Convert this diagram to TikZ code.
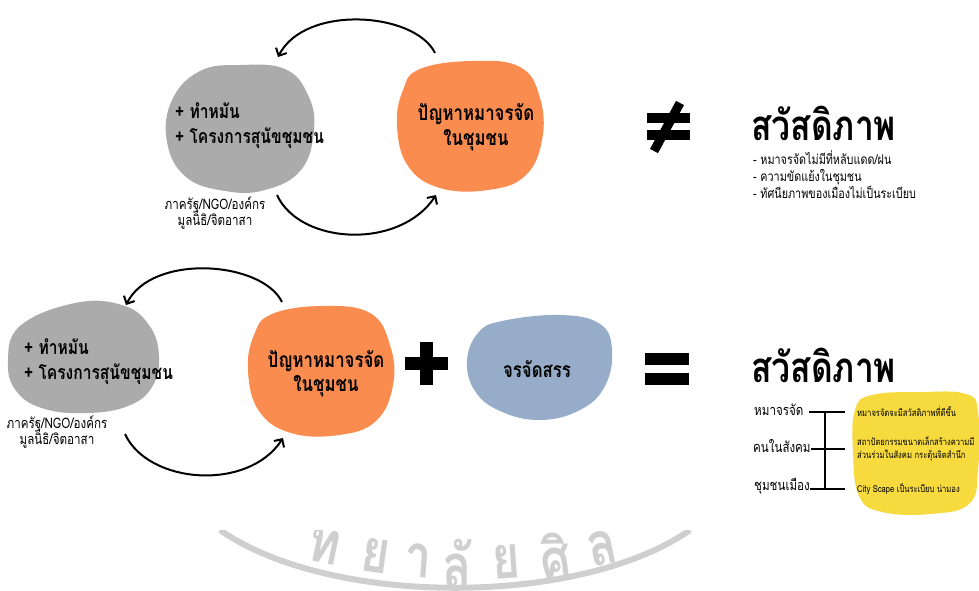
\documentclass[tikz,border=0pt]{standalone}
\usepackage{fontspec}
\setmainfont[Script=Thai, FakeStretch=0.8]{Loma}
\usepackage{tikz}
\usetikzlibrary{positioning, arrows.meta}

\definecolor{dogGray}{HTML}{ABABAB}
\definecolor{dogOrange}{HTML}{F98C4E}
\definecolor{dogBlue}{HTML}{97ACC8}
\definecolor{dogYellow}{HTML}{F6DA3E}
\definecolor{markGray}{HTML}{CFCFCF}

\begin{document}
\begin{tikzpicture}[x=1pt, y=-1pt,
    loop/.style={line width=2pt, -{Straight Barb[length=6pt, width=12pt, line width=2pt]}},
    body/.style={font=\bfseries\fontsize{19.5}{25}\selectfont, align=left, inner sep=0pt},
    prob/.style={font=\bfseries\fontsize{21}{25}\selectfont, align=center, inner sep=0pt},
    who/.style={font=\fontsize{14.5}{16}\selectfont, align=center, inner sep=0pt},
    head/.style={font=\bfseries\fontsize{42}{44}\selectfont, inner sep=0pt, text depth=2pt},
    small/.style={font=\fontsize{13.5}{17}\selectfont, align=left, inner sep=0pt},
    tag/.style={font=\fontsize{14.5}{17}\selectfont, inner sep=0pt, anchor=west},
    tiny/.style={font=\fontsize{9.5}{13}\selectfont, align=left, inner sep=0pt, anchor=west},
    bar/.style={line width=1.4pt}]
    \useasboundingbox (0,0) rectangle (979,590);

    % Row 1 blobs
    \fill[dogGray] plot[smooth cycle, tension=0.7] coordinates
        {(240,65) (285,69) (308,95) (314,130) (301,170) (265,190) (225,191) (186,177) (167,142) (172,100) (200,71)};
    \fill[dogOrange] plot[smooth cycle, tension=0.7] coordinates
        {(420,69) (472,61) (520,67) (540,98) (542,140) (525,176) (488,190) (440,188) (408,166) (397,126) (403,90)};

    \node[body, anchor=west] (care1) at (175,126) {+ ทำหมัน\\+ โครงการสุนัขชุมชน};
    \node[who] (actor1) at (215,213) {ภาครัฐ/NGO/องค์กร\\มูลนิธิ/จิตอาสา};
    \node[prob] (prob1) at (476,127) {ปัญหาหมาจรจัด\\ในชุมชน};

    % Row 1 loop
    \coordinate (t1s) at (435,53);
    \coordinate (t1e) at (278,57);
    \coordinate (b1s) at (277,195);
    \coordinate (b1e) at (436,195);
    \draw[loop] (t1s) .. controls (415,12) and (305,4) .. (t1e);
    \draw[loop] (b1s) .. controls (300,245) and (400,250) .. (b1e);

    % Not equal
    \fill (647,113) rectangle (690,123);
    \fill (647,130) rectangle (690,140);
    \draw[line width=9pt] (680,103) -- (654,151);

    \node[head, anchor=west] (well1) at (751,124) {สวัสดิภาพ};
    \node[small, anchor=north west] (list1) at (753,150)
        {- หมาจรจัดไม่มีที่หลับแดด/ฝน\\- ความขัดแย้งในชุมชน\\- ทัศนียภาพของเมืองไม่เป็นระเบียบ};

    % Row 2 blobs
    \fill[dogGray] plot[smooth cycle, tension=0.7] coordinates
        {(75,303) (122,305) (149,325) (159,356) (152,387) (128,406) (88,413) (45,409) (17,392) (8,362) (20,326)};
    \fill[dogOrange] plot[smooth cycle, tension=0.7] coordinates
        {(272,314) (322,306) (370,313) (390,345) (393,385) (376,421) (339,435) (291,433) (259,411) (248,371) (254,335)};
    \fill[dogBlue] plot[smooth cycle, tension=0.7] coordinates
        {(502,321) (560,315) (600,324) (612,350) (605,386) (580,410) (540,420) (500,411) (475,391) (467,361) (478,333)};

    \node[body, anchor=west] (care2) at (24,362) {+ ทำหมัน\\+ โครงการสุนัขชุมชน};
    \node[who] (actor2) at (57,432) {ภาครัฐ/NGO/องค์กร\\มูลนิธิ/จิตอาสา};
    \node[prob, font=\bfseries\fontsize{21}{24}\selectfont] (prob2) at (326,374) {ปัญหาหมาจรจัด\\ในชุมชน};
    \node[body, font=\bfseries\fontsize{21}{22}\selectfont] (stray) at (537,369) {จรจัดสรร};

    % Row 2 loop
    \coordinate (t2s) at (282,302);
    \coordinate (t2e) at (126,305);
    \coordinate (b2s) at (125,434);
    \coordinate (b2e) at (283,438);
    \draw[loop] (t2s) .. controls (262,261) and (152,253) .. (t2e);
    \draw[loop] (b2s) .. controls (148,484) and (248,492) .. (b2e);

    % Plus and equal
    \fill (405,357) rectangle (448,370);
    \fill (420,342) rectangle (433,385);
    \fill (645,353) rectangle (689,365);
    \fill (645,373) rectangle (689,385);

    \node[head, anchor=west] (well2) at (751,366) {สวัสดิภาพ};

    % Yellow note
    \fill[dogYellow] plot[smooth cycle, tension=0.7] coordinates
        {(872,395) (922,392) (966,394) (978,412) (978,470) (969,504) (930,514) (882,512) (859,496) (853,452) (855,410)};

    \node[tag] (dog) at (754,410) {หมาจรจัด};
    \node[tag] (people) at (753,446) {คนในสังคม};
    \node[tag] (city) at (754,486) {ชุมชนเมือง};

    \coordinate (spine) at (825,0);
    \coordinate (dogR) at (845,412);
    \coordinate (peopleR) at (845,449);
    \coordinate (cityR) at (845,489);
    \draw[bar] (dog.east |- dogR) ++(5,0) -- (dogR);
    \draw[bar] (people.east |- peopleR) -- (peopleR);
    \draw[bar] (city.east |- cityR) -- (cityR);
    \draw[bar] (spine |- dogR) -- (spine |- cityR);

    \node[tiny] (dogNote) at (857,411) {หมาจรจัดจะมีสวัสดิภาพที่ดีขึ้น};
    \node[tiny] (peopleNote) at (857,449) {สถาปัตยกรรมขนาดเล็กสร้างความมี\\ส่วนร่วมในสังคม กระตุ้นจิตสำนึก};
    \node[tiny] (cityNote) at (857,489) {City Scape เป็นระเบียบ น่ามอง};

    % Watermark
    \begin{scope}
        \clip (0,530) rectangle (979,590);
        \draw[markGray, line width=6pt] (220,530) .. controls (330,607) and (580,607) .. (690,530);
        \foreach \ch/\px/\py/\rot in {ท/324/546/-12, ย/376/556/-8, า/418/561/-4,
                                      ลั/457/563/0, ย/506/562/4, ศิ/555/557/8, ล/602/548/12} {
            \node[markGray, font=\bfseries\fontsize{60}{60}\selectfont, rotate=\rot] at (\px,\py) {\ch};
        }
    \end{scope}
\end{tikzpicture}
\end{document}
